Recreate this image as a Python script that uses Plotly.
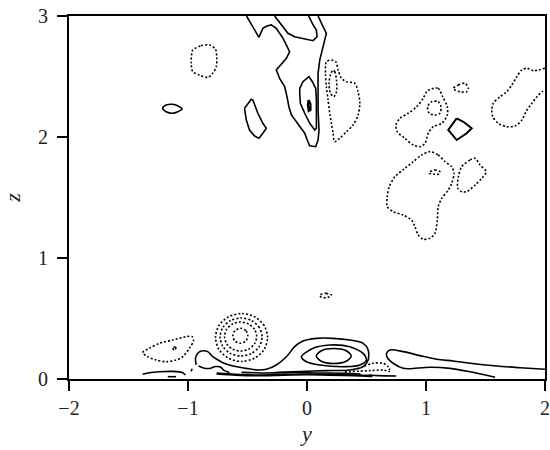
import plotly.graph_objects as go

# ---------------- data (y, z) ----------------
# solid (positive) contours
sa_y = [-0.508, -0.440, -0.404, -0.371, -0.337, -0.300, -0.258, -0.202, -0.146, -0.173, -0.258, -0.230, -0.188, -0.168, -0.152, -0.131, -0.089, -0.019, 0.008, 0.023, 0.073, 0.093, 0.101, 0.093, 0.093, 0.093, 0.107, 0.141, 0.163, 0.135, 0.093]
sa_z = [3.0, 2.884, 2.824, 2.898, 2.917, 2.926, 2.898, 2.816, 2.705, 2.650, 2.554, 2.485, 2.416, 2.333, 2.250, 2.182, 2.126, 2.031, 1.961, 1.928, 1.920, 1.975, 2.058, 2.223, 2.388, 2.526, 2.636, 2.774, 2.857, 2.912, 3.0]

sb_y = [-0.272, -0.202, -0.160, -0.104, -0.034, 0.051, 0.084, 0.079, 0.051, 0.014]
sb_z = [3.0, 2.912, 2.857, 2.829, 2.816, 2.796, 2.829, 2.884, 2.926, 3.0]

sc_y = [-0.061, -0.034, 0.017, 0.045, 0.073, 0.079, 0.079, 0.079, 0.065, 0.023, -0.019, -0.056, -0.061]
sc_z = [2.402, 2.457, 2.498, 2.457, 2.402, 2.306, 2.196, 2.072, 2.058, 2.113, 2.196, 2.279, 2.361]

sd_y = [0.013, 0.029, 0.029, 0.014, 0.008]
sd_z = [2.306, 2.273, 2.223, 2.215, 2.264]

se_y = [-0.525, -0.468, -0.455, -0.413, -0.371, -0.342, -0.371, -0.404, -0.440, -0.483, -0.510]
se_z = [2.237, 2.312, 2.306, 2.196, 2.113, 2.072, 2.031, 1.989, 2.008, 2.058, 2.140]

si_y = [-1.213, -1.184, -1.128, -1.072, -1.049, -1.086, -1.128, -1.184]
si_z = [2.237, 2.264, 2.270, 2.250, 2.231, 2.209, 2.196, 2.209]

sn_y = [1.258, 1.314, 1.384, 1.342, 1.258, 1.187]
sn_z = [2.154, 2.126, 2.072, 2.031, 1.975, 2.058]

s1_y = [-0.931, -0.937, -0.918, -0.889, -0.834, -0.797, -0.758, -0.707, -0.623, -0.510, -0.413, -0.342, -0.258, -0.173, -0.104, -0.034, 0.079, 0.219, 0.360, 0.472, 0.514, 0.514, 0.472, 0.360, 0.163, -0.061, -0.272]
s1_z = [0.116, 0.171, 0.212, 0.231, 0.226, 0.190, 0.163, 0.135, 0.107, 0.088, 0.074, 0.080, 0.116, 0.184, 0.267, 0.314, 0.336, 0.336, 0.322, 0.295, 0.240, 0.157, 0.102, 0.074, 0.069, 0.062, 0.054]

s2_y = [-0.047, 0.051, 0.191, 0.360, 0.472, 0.500, 0.444, 0.332, 0.107, -0.005]
s2_z = [0.184, 0.254, 0.281, 0.267, 0.212, 0.157, 0.116, 0.102, 0.116, 0.143]

s3_y = [0.372, 0.329, 0.225, 0.121, 0.078, 0.121, 0.225, 0.329]
s3_z = [0.190, 0.234, 0.252, 0.234, 0.190, 0.146, 0.128, 0.146]

s4_y = [-0.912, -0.870, -0.819, -0.769, -0.727, -0.701, -0.651]
s4_z = [0.107, 0.091, 0.087, 0.103, 0.099, 0.074, 0.054]

sr_y = [2.0, 1.791, 1.595, 1.370, 1.229, 1.090, 0.949, 0.808, 0.696, 0.669, 0.674, 0.724, 0.808, 0.865, 1.033, 1.202, 1.370, 1.581]
sr_z = [0.080, 0.093, 0.107, 0.130, 0.149, 0.163, 0.193, 0.226, 0.240, 0.212, 0.179, 0.130, 0.088, 0.085, 0.097, 0.088, 0.060, 0.014]

sl_y = [-1.381, -1.325, -1.240, -1.128, -1.044, -1.021]
sl_z = [0.039, 0.052, 0.060, 0.063, 0.052, 0.033]

sm_y = [-1.170, -1.100]
sm_z = [0.019, 0.019]

sk_y = [-0.965, -0.975]
sk_z = [0.085, 0.062]

w1_y = [-0.76, -0.60, -0.40, -0.20, 0.0, 0.20, 0.40, 0.55]
w1_z = [0.045, 0.035, 0.030, 0.035, 0.038, 0.035, 0.030, 0.025]

w2_y = [-0.55, -0.35, -0.10, 0.10, 0.30, 0.45]
w2_z = [0.055, 0.050, 0.055, 0.050, 0.048, 0.040]

w3_y = [0.52, 0.60, 0.75]
w3_z = [0.033, 0.028, 0.025]

# dotted (negative) contours
nf_y = [0.163, 0.205, 0.242, 0.261, 0.290, 0.332, 0.402, 0.429, 0.444, 0.429, 0.387, 0.332, 0.275, 0.233, 0.219, 0.205, 0.191, 0.177, 0.163, 0.155]
nf_z = [2.622, 2.636, 2.622, 2.554, 2.485, 2.457, 2.444, 2.374, 2.279, 2.182, 2.099, 2.044, 1.989, 1.961, 2.031, 2.113, 2.196, 2.306, 2.416, 2.526]

ng_y = [0.219, 0.233, 0.248, 0.248, 0.225, 0.197, 0.185, 0.197]
ng_z = [2.554, 2.540, 2.471, 2.374, 2.333, 2.361, 2.444, 2.512]

nh_y = [-0.960, -0.889, -0.819, -0.769, -0.758, -0.763, -0.792, -0.834, -0.904, -0.960, -0.973, -0.968]
nh_z = [2.719, 2.755, 2.760, 2.725, 2.650, 2.581, 2.526, 2.493, 2.512, 2.540, 2.609, 2.692]

nj_y = [2.0, 1.903, 1.848, 1.805, 1.763, 1.721, 1.679, 1.623, 1.566, 1.553, 1.561, 1.608, 1.679, 1.749, 1.805, 1.848, 1.890, 1.932, 1.974, 2.0]
nj_z = [2.568, 2.548, 2.568, 2.554, 2.498, 2.430, 2.374, 2.333, 2.279, 2.223, 2.168, 2.113, 2.085, 2.091, 2.140, 2.223, 2.279, 2.333, 2.374, 2.388]

nk_y = [1.229, 1.272, 1.328, 1.356, 1.342, 1.286, 1.244]
nk_z = [2.402, 2.430, 2.444, 2.402, 2.374, 2.374, 2.388]

nl_y = [1.033, 1.103, 1.140, 1.179, 1.179, 1.132, 1.061, 1.019, 0.991, 0.949, 0.893, 0.823, 0.758, 0.747, 0.781, 0.851, 0.921, 0.977, 1.005]
nl_z = [2.394, 2.402, 2.333, 2.250, 2.182, 2.113, 2.085, 2.031, 1.948, 1.920, 1.934, 1.989, 2.044, 2.099, 2.154, 2.196, 2.250, 2.320, 2.374]

nm_y = [1.048, 1.103, 1.126, 1.117, 1.075, 1.027, 1.014]
nm_z = [2.292, 2.292, 2.250, 2.196, 2.182, 2.196, 2.250]

no_y = [1.033, 1.103, 1.160, 1.216, 1.235, 1.216, 1.187, 1.132, 1.103, 1.095, 1.075, 1.033, 0.977, 0.935, 0.907, 0.879, 0.808, 0.724, 0.674, 0.674, 0.691, 0.739, 0.823, 0.893, 0.963]
no_z = [1.879, 1.851, 1.796, 1.755, 1.700, 1.617, 1.562, 1.493, 1.424, 1.314, 1.204, 1.163, 1.155, 1.190, 1.259, 1.314, 1.355, 1.383, 1.424, 1.507, 1.589, 1.672, 1.741, 1.796, 1.851]

np_y = [1.033, 1.075, 1.117, 1.112, 1.061, 1.027]
np_z = [1.713, 1.727, 1.713, 1.694, 1.694, 1.700]

nq_y = [1.300, 1.370, 1.412, 1.454, 1.505, 1.469, 1.412, 1.342, 1.300, 1.267, 1.272]
nq_z = [1.755, 1.810, 1.824, 1.769, 1.713, 1.659, 1.603, 1.548, 1.548, 1.576, 1.672]

nr_y = [0.107, 0.163, 0.205, 0.177, 0.121]
nr_z = [0.694, 0.708, 0.694, 0.675, 0.675]

nt_y = [-1.381, -1.325, -1.240, -1.128, -1.016, -0.965, -0.954, -0.988, -1.044, -1.100, -1.184, -1.268, -1.339]
nt_z = [0.217, 0.254, 0.295, 0.322, 0.350, 0.350, 0.317, 0.254, 0.184, 0.157, 0.143, 0.157, 0.184]

nu_y = [-1.130, -1.100, -1.115]
nu_z = [0.262, 0.262, 0.238]

c1_y = [-0.331, -0.360, -0.440, -0.550, -0.660, -0.740, -0.769, -0.740, -0.660, -0.550, -0.440, -0.360]
c1_z = [0.343, 0.442, 0.514, 0.541, 0.514, 0.442, 0.343, 0.244, 0.172, 0.145, 0.172, 0.244]

c2_y = [-0.377, -0.401, -0.466, -0.554, -0.643, -0.707, -0.731, -0.707, -0.643, -0.554, -0.466, -0.401]
c2_z = [0.347, 0.426, 0.483, 0.504, 0.483, 0.426, 0.347, 0.269, 0.211, 0.190, 0.211, 0.269]

c3_y = [-0.423, -0.441, -0.491, -0.558, -0.626, -0.675, -0.693, -0.675, -0.626, -0.558, -0.491, -0.441]
c3_z = [0.351, 0.411, 0.455, 0.471, 0.455, 0.411, 0.351, 0.291, 0.247, 0.231, 0.247, 0.291]

c4_y = [-0.497, -0.515, -0.560, -0.605, -0.623, -0.605, -0.560, -0.515]
c4_z = [0.357, 0.401, 0.419, 0.401, 0.357, 0.313, 0.295, 0.313]

nd1_y = [0.387, 0.472, 0.556, 0.640, 0.682, 0.696]
nd1_z = [0.074, 0.102, 0.130, 0.130, 0.102, 0.074]

nd2_y = [0.317, 0.528, 0.640, 0.696]
nd2_z = [0.058, 0.069, 0.074, 0.060]

x_ticks = [-2, -1, 0, 1, 2]
z_ticks = [0, 1, 2, 3]

# ---------------- figure ----------------
fig = go.Figure()


def add(ys, zs, dotted=False, closed=False, smooth=False, width=1.6):
    ys = list(ys)
    zs = list(zs)
    if closed:
        ys.append(ys[0])
        zs.append(zs[0])
    fig.add_trace(go.Scatter(
        x=ys, y=zs, mode="lines", hoverinfo="skip", showlegend=False,
        line=dict(color="black", width=width,
                  dash="2px,2px" if dotted else "solid",
                  shape="spline" if smooth else "linear",
                  smoothing=0.8 if smooth else None),
    ))


# solid contours
add(sa_y, sa_z)
add(sb_y, sb_z)
add(sc_y, sc_z, closed=True)
add(sd_y, sd_z, closed=True, width=2.2)
add(se_y, se_z, closed=True)
add(si_y, si_z, closed=True, smooth=True)
add(sn_y, sn_z, closed=True, width=2.0)
add(s1_y, s1_z, smooth=True)
add(s2_y, s2_z, closed=True, smooth=True)
add(s3_y, s3_z, closed=True, smooth=True)
add(s4_y, s4_z, smooth=True)
add(sr_y, sr_z, smooth=True)
add(sl_y, sl_z, smooth=True)
add(sm_y, sm_z)
add(sk_y, sk_z)
add(w1_y, w1_z, smooth=True, width=2.4)
add(w2_y, w2_z, smooth=True, width=1.6)
add(w3_y, w3_z, smooth=True, width=1.6)

# dotted contours
for ys, zs, cl in [
    (nf_y, nf_z, True), (ng_y, ng_z, True), (nh_y, nh_z, True),
    (nj_y, nj_z, False), (nk_y, nk_z, True), (nl_y, nl_z, True),
    (nm_y, nm_z, True), (no_y, no_z, True), (np_y, np_z, True),
    (nq_y, nq_z, True), (nr_y, nr_z, True), (nt_y, nt_z, True),
    (nu_y, nu_z, True), (c1_y, c1_z, True), (c2_y, c2_z, True),
    (c3_y, c3_z, True), (c4_y, c4_z, True), (nd1_y, nd1_z, False),
    (nd2_y, nd2_z, False),
]:
    add(ys, zs, dotted=True, closed=cl, smooth=True)

serif = "Liberation Serif"
axis_common = dict(
    showgrid=False, zeroline=False, showline=True, linecolor="black",
    linewidth=2, mirror=True, ticks="outside", ticklen=10, tickwidth=2,
    tickcolor="black", tickfont=dict(family=serif, size=20, color="#222"),
    ticklabeloverflow="allow", automargin=False,
)

fig.update_layout(
    width=550, height=450,
    margin=dict(l=69, r=5, t=16, b=71),
    paper_bgcolor="white", plot_bgcolor="white",
    xaxis=dict(range=[-2, 2], tickvals=x_ticks,
               ticktext=[("\u2212" + str(-v)) if v < 0 else str(v) for v in x_ticks],
               title=dict(text="<i>y</i>", font=dict(family=serif, size=22, color="#222"), standoff=8),
               **axis_common),
    yaxis=dict(range=[0, 3], tickvals=z_ticks, ticklabelstandoff=5,
               title=dict(text="<i>z</i>", font=dict(family=serif, size=22, color="#222"), standoff=12),
               **axis_common),
)

fig.write_html("out.html", config={"displayModeBar": False},
               post_script="document.body.style.margin='0';document.body.style.overflow='hidden';")
